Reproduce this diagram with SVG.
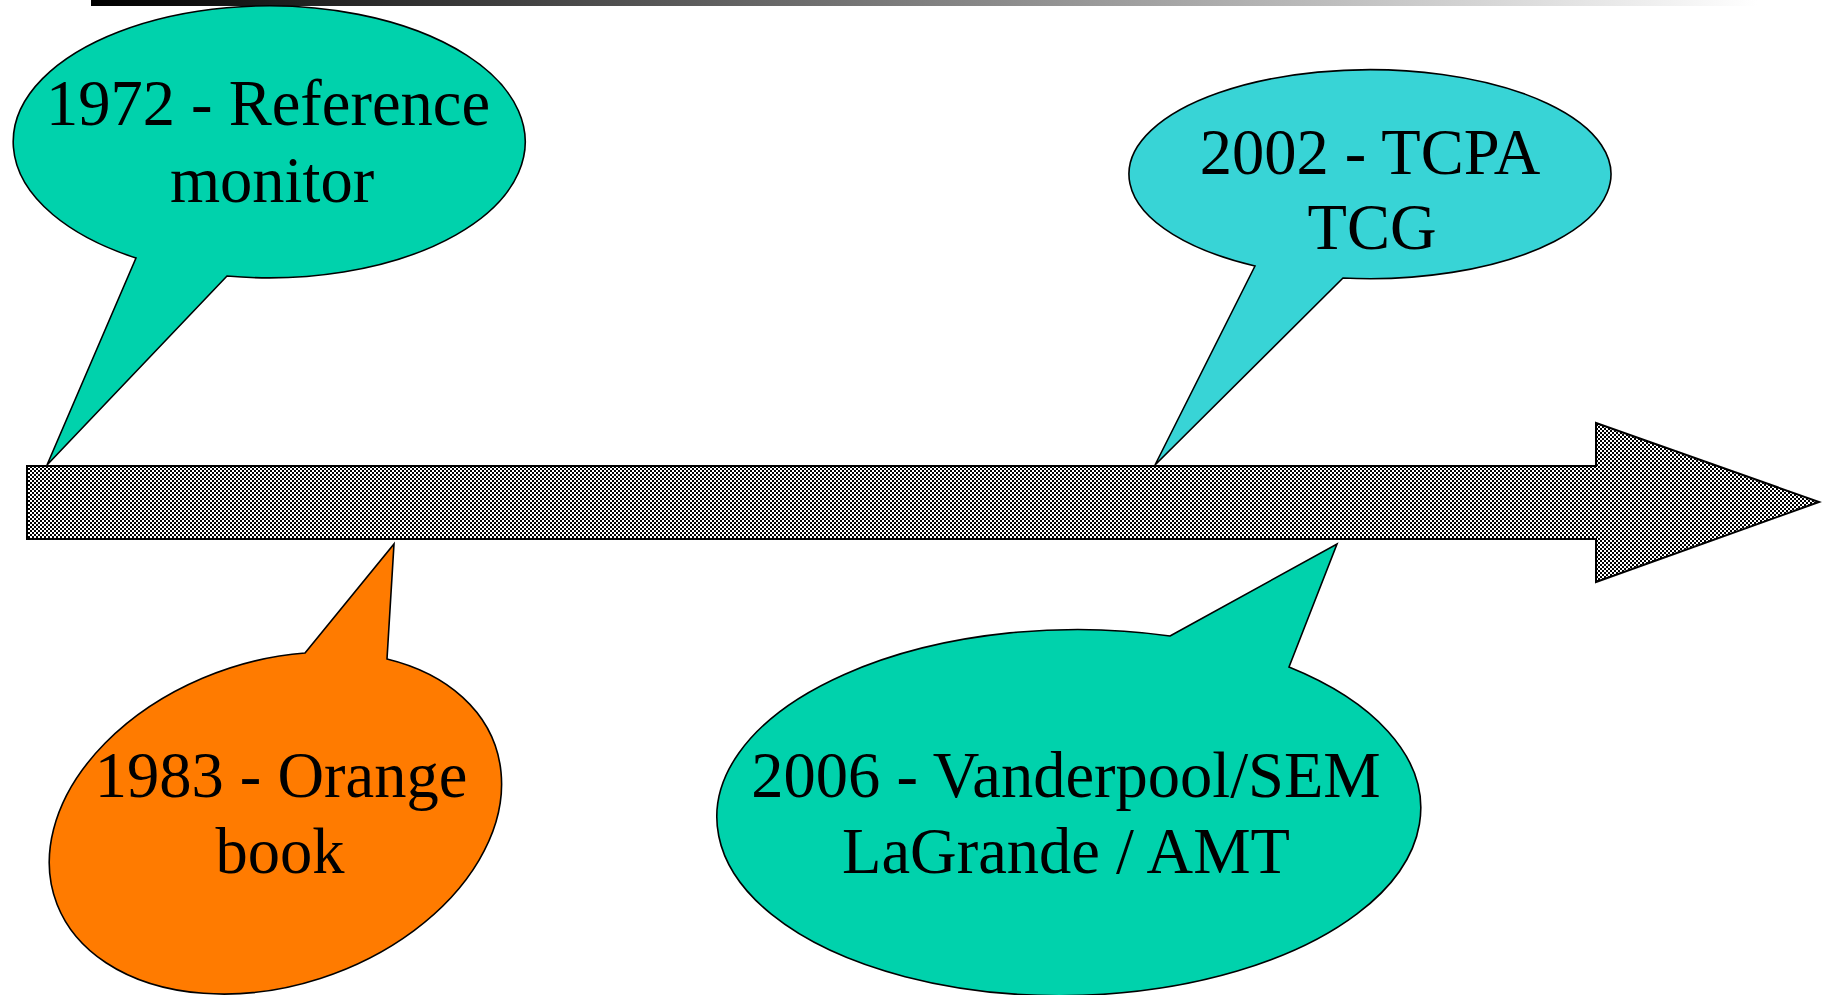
<svg xmlns="http://www.w3.org/2000/svg" width="1830" height="995" viewBox="0 0 1830 995">
<style>
.callout{stroke:#000;stroke-width:1.6;stroke-linejoin:miter}
.teal{fill:#00D2AC}
.cyan{fill:#38D4D6}
.orange{fill:#FF7B00}
.lbl{font-family:"Liberation Serif","Times New Roman",serif;font-size:64.5px;fill:#000;text-anchor:middle}
</style>
<defs>
<linearGradient id="topbar" x1="0" y1="0" x2="1" y2="0">
<stop offset="0" stop-color="#000"/>
<stop offset="1" stop-color="#fff"/>
</linearGradient>
<pattern id="checker" x="0" y="0" width="4" height="4" patternUnits="userSpaceOnUse">
<rect width="4" height="4" fill="#fff"/>
<rect x="0" y="0" width="2" height="2" fill="#000"/>
<rect x="2" y="2" width="2" height="2" fill="#000"/>
</pattern>
</defs>
<rect width="1830" height="995" fill="#fff"/>
<rect id="top-bar" x="91" y="0" width="1666" height="6" fill="url(#topbar)"/>
<g id="connectors">
<polygon id="timeline-arrow" points="27,466 1596,466 1596,423 1819,502 1596,582 1596,539 27,539" fill="url(#checker)" stroke="#000" stroke-width="2"/>
</g>
<g id="node-1972">
<path class="callout teal" d="M136,258 L47,465 L227,276 A256 136 0 1 0 136,258 Z"/>
<text class="lbl" x="268" y="125">1972 - Reference</text>
<text class="lbl" x="272" y="202">monitor</text>
</g>
<g id="node-2002">
<path class="callout cyan" d="M1255,266 L1155,465 L1343,278 A241 104.5 0 1 0 1255,266 Z"/>
<text class="lbl" x="1370" y="174">2002 - TCPA</text>
<text class="lbl" x="1372" y="249">TCG</text>
</g>
<g id="node-1983">
<path class="callout orange" d="M305,653 L394,544 L387,659 A233 161.5 -19.5 1 1 305,653 Z"/>
<text class="lbl" x="281" y="797">1983 - Orange</text>
<text class="lbl" x="280" y="873">book</text>
</g>
<g id="node-2006">
<path class="callout teal" d="M1170,636 L1337,544 L1289,667 A352 183 -1 1 1 1170,636 Z"/>
<text class="lbl" x="1066" y="797">2006 - Vanderpool/SEM</text>
<text class="lbl" x="1066" y="873">LaGrande / AMT</text>
</g>
</svg>
